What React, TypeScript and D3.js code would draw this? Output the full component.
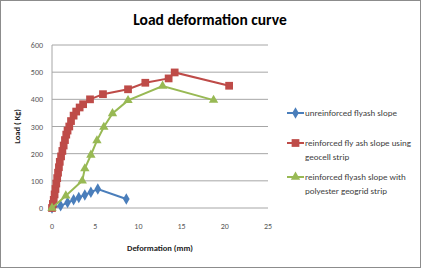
import React from "react";
import * as d3 from "d3";

// Deformation (mm) / load (kg) readings for each slope
const unreinforcedDeformation = [0, 1.0, 1.8, 2.5, 3.1, 3.8, 4.5, 5.3, 8.6];
const unreinforcedLoad = [0, 8, 20, 30, 39, 48, 58, 70, 33];

const geocellDeformation = [
  0, 0.1, 0.2, 0.3, 0.4, 0.5, 0.6, 0.7, 0.8, 0.9, 1.05, 1.2, 1.35, 1.5, 1.65,
  1.8, 2.0, 2.2, 2.5, 2.8, 3.2, 3.6, 4.4, 5.9, 8.8, 10.8, 13.5, 14.2, 20.5,
];
const geocellLoad = [
  0, 15, 30, 50, 70, 90, 110, 130, 150, 170, 190, 210, 230, 250, 270, 285, 300,
  320, 340, 355, 370, 382, 400, 419, 437, 461, 477, 499, 450,
];

const geogridDeformation = [0, 1.6, 3.5, 3.8, 4.5, 5.2, 6.0, 7.0, 8.8, 12.8, 18.7];
const geogridLoad = [0, 45, 100, 145, 195, 248, 298, 348, 396, 449, 397];

const xTicks = [0, 5, 10, 15, 20, 25];
const yTicks = [0, 100, 200, 300, 400, 500, 600];

const seriesNames = [
  ["unreinforced flyash slope"],
  ["reinforced fly ash slope using", "geocell strip"],
  ["reinforced flyash slope with", "polyester geogrid strip"],
];

const W = 424;
const H = 268;
const plot = { left: 52, right: 268, top: 45, bottom: 208 };

const x = d3.scaleLinear().domain([0, 25]).range([plot.left, plot.right]);
const y = d3.scaleLinear().domain([0, 600]).range([plot.bottom, plot.top]);

type Pt = [number, number];
const zip = (a: number[], b: number[]): Pt[] => a.map((v, i) => [v, b[i]]);

const line = d3
  .line<Pt>()
  .x((d) => x(d[0]))
  .y((d) => y(d[1]));

const series = [
  { pts: zip(unreinforcedDeformation, unreinforcedLoad), color: "#4a7ebb", shape: d3.symbolDiamond, size: 38 },
  { pts: zip(geocellDeformation, geocellLoad), color: "#be4b48", shape: d3.symbolSquare, size: 60 },
  { pts: zip(geogridDeformation, geogridLoad), color: "#98b954", shape: d3.symbolTriangle, size: 38 },
];

const font = "Calibri, Carlito, 'Liberation Sans Narrow', 'Open Sans', sans-serif";

export default function App() {
  const legendY = [113, 143, 177];
  return (
    <div style={{ position: "absolute", left: 0, top: 0 }}>
      <svg width={W} height={H} style={{ display: "block", background: "#fff" }} fontFamily={font}>
        <rect x={0.5} y={0.5} width={420} height={H - 1} fill="#fff" stroke="#8c8c8c" />
        <text x={210} y={25} textAnchor="middle" fontSize={15.5} fontWeight="bold" fill="#000">
          Load deformation curve
        </text>

        {yTicks.map((t) => (
          <g key={t}>
            {t > 0 && (
              <line x1={plot.left} x2={plot.right} y1={y(t)} y2={y(t)} stroke="#a6a6a6" strokeWidth={1} />
            )}
            <text x={43} y={y(t) + 3} textAnchor="end" fontSize={8} fill="#595959">
              {t}
            </text>
          </g>
        ))}
        <line x1={plot.left} x2={plot.left} y1={plot.top} y2={plot.bottom} stroke="#a6a6a6" />
        <line x1={plot.left} x2={plot.right} y1={plot.bottom} y2={plot.bottom} stroke="#a6a6a6" />
        {xTicks.map((t) => (
          <text key={t} x={x(t)} y={229} textAnchor="middle" fontSize={8} fill="#595959">
            {t}
          </text>
        ))}

        <text x={160} y={251} textAnchor="middle" fontSize={8.5} fontWeight="bold" fill="#222">
          Deformation (mm)
        </text>
        <text
          transform={`translate(20,${(plot.top + plot.bottom) / 2}) rotate(-90)`}
          textAnchor="middle"
          fontSize={8.5}
          fontWeight="bold"
          fill="#222"
        >
          Load ( Kg)
        </text>

        {series.map((s, i) => (
          <g key={i}>
            <path d={line(s.pts) ?? ""} fill="none" stroke={s.color} strokeWidth={2} />
            {s.pts.map((p, j) => (
              <path
                key={j}
                d={d3.symbol().type(s.shape).size(s.size)() ?? ""}
                transform={`translate(${x(p[0])},${y(p[1])})`}
                fill={s.color}
              />
            ))}
          </g>
        ))}

        {series.map((s, i) => (
          <g key={i} transform={`translate(287,${legendY[i]})`}>
            <line x1={0} x2={17} y1={0} y2={0} stroke={s.color} strokeWidth={2} />
            <path d={d3.symbol().type(s.shape).size(s.size)() ?? ""} transform="translate(8.5,0)" fill={s.color} />
            {seriesNames[i].map((ln, k) => (
              <text key={k} x={18} y={3 + k * 14} fontSize={9} fill="#404040">
                {ln}
              </text>
            ))}
          </g>
        ))}
      </svg>
    </div>
  );
}
